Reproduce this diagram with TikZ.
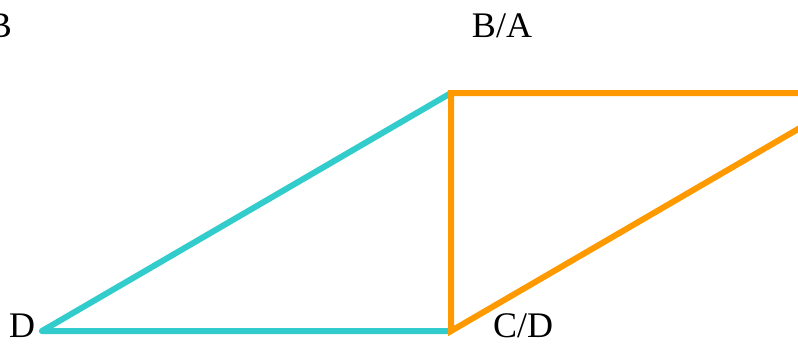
\documentclass[tikz,border=0pt]{standalone}
\usepackage{fontspec}
\setmainfont{Liberation Serif}
\definecolor{tealc}{RGB}{51,204,204}
\definecolor{orangec}{RGB}{255,153,0}
\begin{document}
\begin{tikzpicture}[x=1pt,y=-1pt,
  edge/.style={line width=6pt,line join=miter},
  lbl/.style={font=\fontsize{36}{40}\selectfont,anchor=base,inner sep=0pt}]
\useasboundingbox (0,0) rectangle (798,343);
\clip (0,0) rectangle (798,343);
\coordinate (D) at (42,331);
\coordinate (BA) at (451,93);
\coordinate (CD) at (451,331);
\coordinate (A2) at (860,93);
\draw[edge,tealc,line join=round] (CD) -- (D) -- (BA);
\draw[edge,orangec] (A2) -- (BA) -- (CD) -- (A2);
\node[lbl] (lB) at (0,37) {B};
\node[lbl] (lBA) at (502,37) {B/A};
\node[lbl] (lD) at (22,337) {D};
\node[lbl] (lCD) at (523,337) {C/D};
\end{tikzpicture}
\end{document}
